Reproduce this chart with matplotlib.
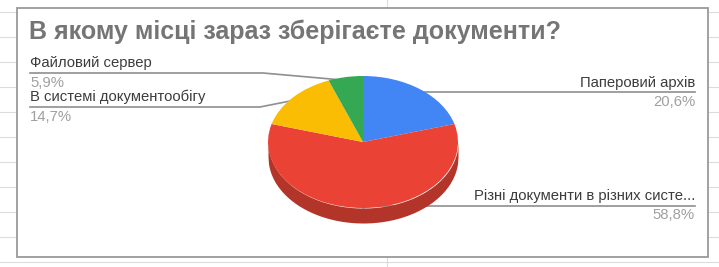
import matplotlib
matplotlib.use("Agg")
from matplotlib import pyplot as plt
from matplotlib.patches import Rectangle
import numpy as np

title = "В якому місці зараз зберігаєте документи?"
labels = ["Паперовий архів", "Різні документи в різних систе...", "В системі документообігу", "Файловий сервер"]
values = [20.6, 58.8, 14.7, 5.9]
colors = ["#4285F4", "#EA4335", "#FBBC04", "#34A853"]
side_color = "#B3352A"

# label layout (pixels): side, text y, underline y, percent y, elbow x
layout = [
    ("right", 83, 92, 102, 447),
    ("right", 196, 206, 215, 383),
    ("left", 97, 107, 117, 260),
    ("left", 63, 73, 83, 263),
]

plt.rcParams['font.family'] = ['Liberation Sans', 'DejaVu Sans']

W, H = 719, 267
fig = plt.figure(figsize=(W / 100, H / 100), dpi=100)
bg = fig.add_axes([0, 0, 1, 1])
bg.set_xlim(0, W)
bg.set_ylim(H, 0)
bg.axis('off')

# spreadsheet grid behind the chart
for gy in np.arange(12, H, 25):
    bg.plot([0, W], [gy, gy], color="#dcdcdc", lw=0.8, zorder=0)
bg.plot([387, 387], [0, H], color="#dcdcdc", lw=0.8, zorder=0)
bg.add_patch(Rectangle((17, 8), 691, 249, facecolor="white", edgecolor="#9a9a9a", lw=1.3, zorder=1))

bg.text(29, 32, title, fontsize=18, fontweight='bold', color="#757575", va='center', ha='left', zorder=3)

# pie (top face ellipse: center 363,142 rx 95 ry 66, depth 15)
cx, cy, rx, ry, depth = 363, 142, 95, 66, 15
d = depth / ry
pax = fig.add_axes([(cx - rx) / W, (H - (cy + ry + depth)) / H, 2 * rx / W, (2 * ry + depth) / H])
xs = np.linspace(-1, 1, 400)
front = -np.sqrt(np.clip(1 - xs ** 2, 0, None))
pax.fill_between(xs, front - d, front, color=side_color, lw=0, zorder=1)
pax.pie(values, colors=colors, startangle=90, counterclock=False,
        wedgeprops=dict(linewidth=0, zorder=2))
pax.set_aspect('auto')
pax.set_xlim(-1, 1)
pax.set_ylim(-1 - d, 1)
pax.axis('off')

# dots + leader lines
total = sum(values)
start = 90.0
to_px = pax.transData + bg.transData.inverted()
for val, lab, (side, ty, uy, py, ex) in zip(values, labels, layout):
    span = 360 * val / total
    mid = np.deg2rad(start - span / 2)
    start -= span
    dx, dy = to_px.transform((0.95 * np.cos(mid), 0.95 * np.sin(mid)))
    if side == "right":
        bg.plot([dx, ex, 695], [dy, uy, uy], color="#8f8f8f", lw=1.2, zorder=3)
        bg.text(695, ty, lab, fontsize=10.7, color="#3c3c3c", ha='right', va='center', zorder=3)
        bg.text(695, py, f"{val:.1f}%".replace('.', ','), fontsize=10.7, color="#a0a0a0",
                ha='right', va='center', zorder=3)
    else:
        bg.plot([30, ex, dx], [uy, uy, dy], color="#8f8f8f", lw=1.2, zorder=3)
        bg.text(30, ty, lab, fontsize=10.7, color="#3c3c3c", ha='left', va='center', zorder=3)
        bg.text(30, py, f"{val:.1f}%".replace('.', ','), fontsize=10.7, color="#a0a0a0",
                ha='left', va='center', zorder=3)
    bg.plot([dx], [dy], 'o', ms=3.5, color="#9a9a9a", zorder=4)

fig.savefig("out.png", dpi=100)
